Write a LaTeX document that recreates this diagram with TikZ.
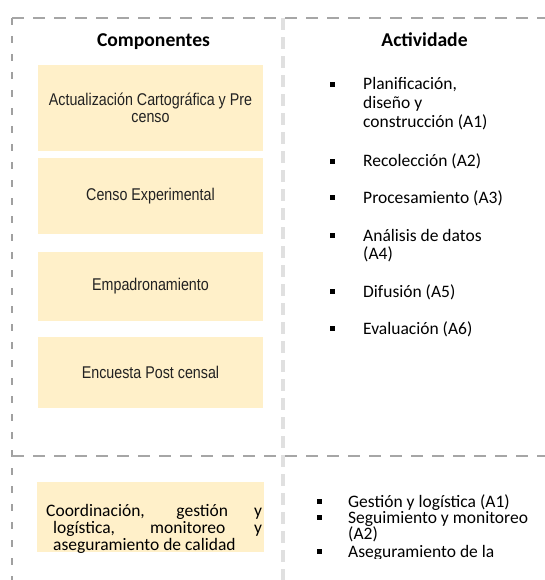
\documentclass[tikz,border=0pt]{standalone}
\usepackage{fontspec}
\setmainfont{Carlito}
\newfontfamily\arialn[FakeStretch=0.84]{Liberation Sans}
\definecolor{framegray}{HTML}{A6A6A6}
\definecolor{leftgray}{HTML}{A0A0A0}
\definecolor{midgray}{HTML}{E0E0E0}
\definecolor{boxfill}{HTML}{FFF0C9}
\definecolor{boxink}{HTML}{222222}
\begin{document}
\begin{tikzpicture}[x=1pt,y=-1pt,
  frameline/.style={draw=framegray, line width=2.5pt, dash pattern=on 12pt off 9pt},
  leftline/.style={draw=leftgray, line width=1.2pt, dash pattern=on 7pt off 11pt},
  midline/.style={draw=midgray, line width=4pt, dash pattern=on 12pt off 7pt},
  compbox/.style={fill=boxfill, draw=none, minimum width=225pt, inner sep=0pt,
    font=\arialn\fontsize{17}{17}\selectfont, text=boxink, align=center},
  head/.style={font=\bfseries\fontsize{19.6}{19.6}\selectfont, anchor=base, inner sep=0pt},
  item/.style={anchor=base west, font=\fontsize{17.5}{18.5}\selectfont, inner sep=0pt},
  bul/.style={fill=black, minimum size=5pt, inner sep=0pt},
  ltext/.style={anchor=base west, font=\fontsize{17.5}{17}\selectfont, inner sep=0pt}]
\useasboundingbox (0,0) rectangle (545,580);
% frame lines
\coordinate (tl) at (12,18);
\coordinate (tr) at (545,18);
\coordinate (bl) at (12,580);
\coordinate (mt) at (283,18);
\coordinate (mb) at (283,580);
\coordinate (hl) at (12,456);
\coordinate (hr) at (545,456);
\draw[midline] (mt) -- (mb);
\draw[leftline] (tl) -- (bl);
\draw[frameline] (tl) -- (tr);
\draw[frameline] (hl) -- (hr);
% headings
\node[head] (hcomp) at (153.5,47) {Componentes};
\node[head] (hact) at (424.5,47) {Actividade};
% component boxes
\node[compbox, minimum height=86pt] (b1) at (150.5,108) {Actualización Cartográfica y Pre\\censo};
\node[compbox, minimum height=76pt] (b2) at (150.5,196) {Censo Experimental};
\node[compbox, minimum height=69pt] (b3) at (150.5,286.5) {Empadronamiento};
\node[compbox, minimum height=71pt] (b4) at (150.5,372.5) {Encuesta Post censal};
\node[compbox, minimum width=227pt, minimum height=70pt] (b5) at (150.5,517) {};
\begin{scope}
\clip (37,482) rectangle (264,552);
\node[ltext] (c1) at (46,516) {\makebox[216pt][s]{Coordinación, gestión y}};
\node[ltext] (c2) at (53,533) {\makebox[209pt][s]{logística, monitoreo y}};
\node[ltext] (c3) at (53,550) {aseguramiento de calidad};
\end{scope}
% activities
\node[bul] (p1) at (332,84.5) {};
\node[item] (a1a) at (363,90) {Planificación,};
\node[item] (a1b) at (363,109) {diseño y};
\node[item] (a1c) at (363,128) {construcción (A1)};
\node[bul] (p2) at (332,161.5) {};
\node[item] (a2) at (363,167) {Recolección (A2)};
\node[bul] (p3) at (332,197.5) {};
\node[item] (a3) at (363,203) {Procesamiento (A3)};
\node[bul] (p4) at (332,235.5) {};
\node[item] (a4a) at (363,241) {Análisis de datos};
\node[item] (a4b) at (363,259) {(A4)};
\node[bul] (p5) at (332,291.5) {};
\node[item] (a5) at (363,297) {Difusión (A5)};
\node[bul] (p6) at (332,328.5) {};
\node[item] (a6) at (363,334) {Evaluación (A6)};
% lower activities
\node[bul] (q1) at (319,501.5) {};
\node[ltext] (g1) at (348,507) {Gestión y logística (A1)};
\node[bul] (q2) at (319,517.5) {};
\node[ltext] (g2a) at (348,523) {Seguimiento y monitoreo};
\node[ltext] (g2b) at (348,539) {(A2)};
\node[bul] (q3) at (319,551) {};
\begin{scope}
\clip (290,540) rectangle (545,558);
\node[ltext] (g3) at (348,557) {Aseguramiento de la};
\end{scope}
\end{tikzpicture}
\end{document}
